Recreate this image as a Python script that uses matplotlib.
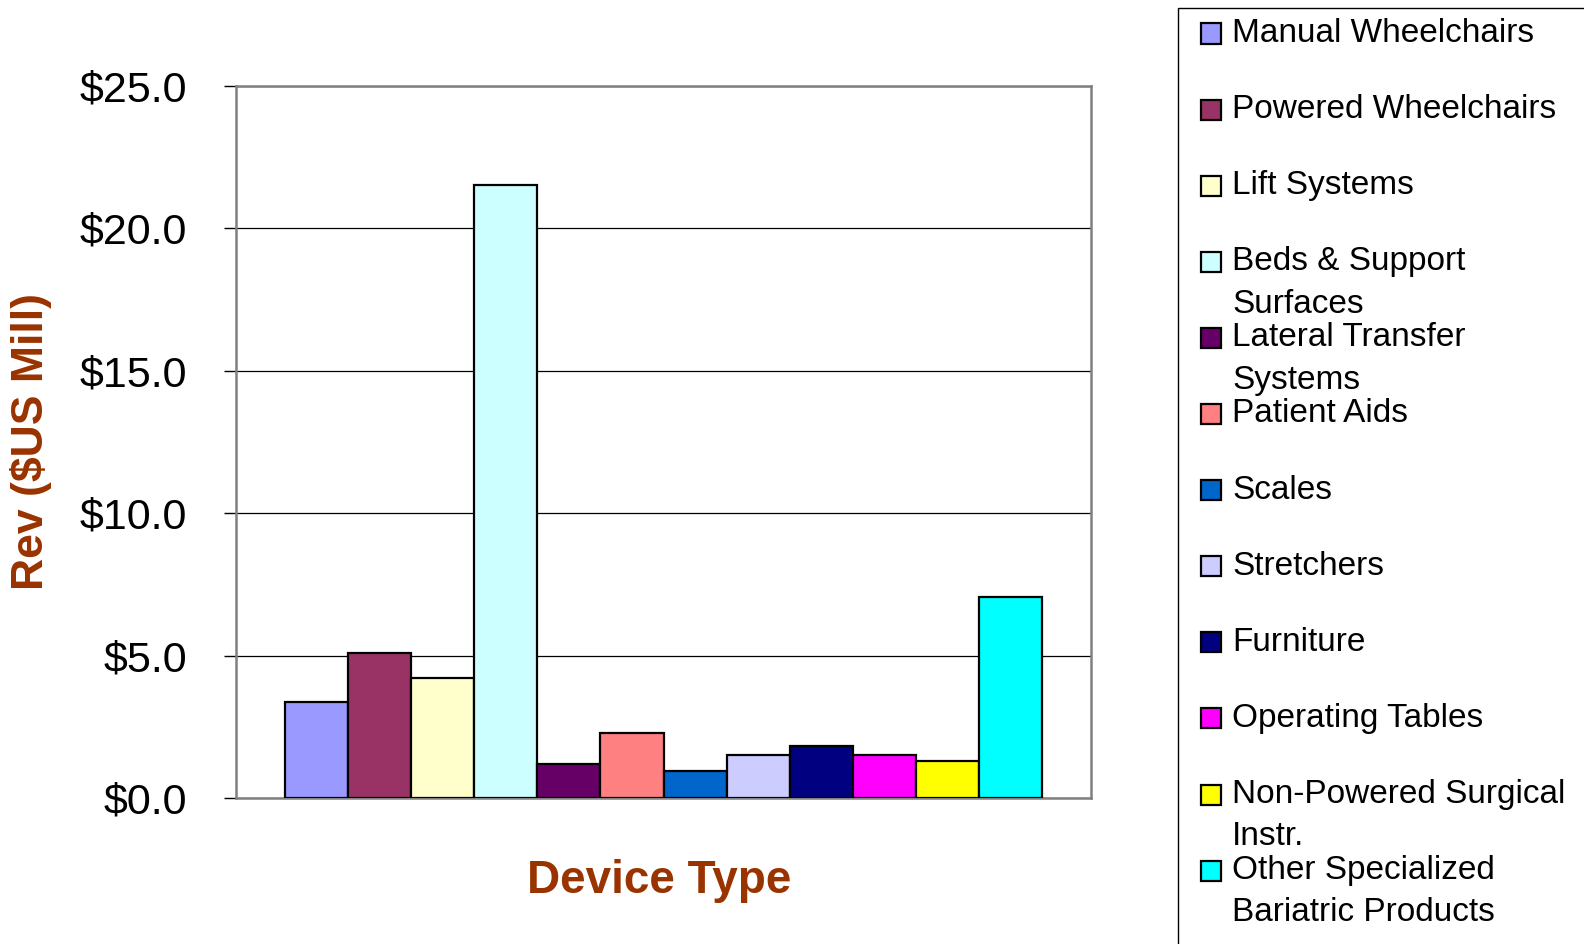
import matplotlib
matplotlib.use("Agg")
import matplotlib.pyplot as plt
from matplotlib.patches import Rectangle
import numpy as np

plt.rcParams['font.family'] = ['Liberation Sans', 'DejaVu Sans']

# device types (legend labels, wrapped as in the reference)
categories = ["Manual Wheelchairs", "Powered Wheelchairs", "Lift Systems",
              "Beds & Support\nSurfaces", "Lateral Transfer\nSystems", "Patient Aids",
              "Scales", "Stretchers", "Furniture", "Operating Tables",
              "Non-Powered Surgical\nInstr.", "Other Specialized\nBariatric Products"]
revenue = [3.36, 5.09, 4.22, 21.52, 1.19, 2.28, 0.96, 1.50, 1.84, 1.50, 1.31, 7.06]
colors = ["#9999FF", "#993366", "#FFFFCC", "#CCFFFF", "#660066", "#FF8080",
          "#0066CC", "#CCCCFF", "#000080", "#FF00FF", "#FFFF00", "#00FFFF"]
yticks = [0, 5, 10, 15, 20, 25]

W, H = 1584, 944
fig = plt.figure(figsize=(W / 100, H / 100), dpi=100)
ax = fig.add_axes([236 / W, 1 - 798 / H, (1091 - 236) / W, (798 - 86) / H])

n = len(revenue)
x = np.arange(n) - (n - 1) / 2
ax.bar(x, revenue, width=1.0, color=colors, edgecolor="black", linewidth=1.6, zorder=3)
ax.set_xlim(-6.77, 6.77)
ax.set_ylim(0, 25)

ax.set_yticks(yticks)
ax.set_yticklabels(["$%.1f" % v for v in yticks], fontsize=31)
ax.set_xticks([])
ax.tick_params(axis='y', direction='out', length=9, width=1, pad=26, color='black')
ax.yaxis.grid(True, color='black', linewidth=0.9, zorder=0)
for s in ax.spines.values():
    s.set_color('#808080')
    s.set_linewidth(1.8)

ax.set_ylabel("Rev ($US Mill)", fontsize=32, fontweight='bold', color='#993300')
ax.yaxis.set_label_coords(-0.215, 0.5)
ax.text(0.495, -0.117, "Device Type", transform=ax.transAxes, ha='center', va='center',
        fontsize=33, fontweight='bold', color='#993300')

# legend box drawn by hand to mimic the fixed row pitch of the original
fig.patches.append(Rectangle((1178 / W, -0.01), 0.3, 1 - 8 / H + 0.01,
                             transform=fig.transFigure, fill=False,
                             edgecolor='black', linewidth=1.0))
pitch = 76.1
for i, (lab, c) in enumerate(zip(categories, colors)):
    yc = 33.5 + i * pitch
    fig.patches.append(Rectangle((1201 / W, 1 - (yc + 10) / H), 20 / W, 20 / H,
                                 transform=fig.transFigure, facecolor=c,
                                 edgecolor='black', linewidth=1.6))
    for j, line in enumerate(lab.split("\n")):
        fig.text(1232 / W, 1 - (yc + j * 42.4) / H, line, fontsize=24,
                 ha='left', va='center')

fig.savefig("out.png", dpi=100)
